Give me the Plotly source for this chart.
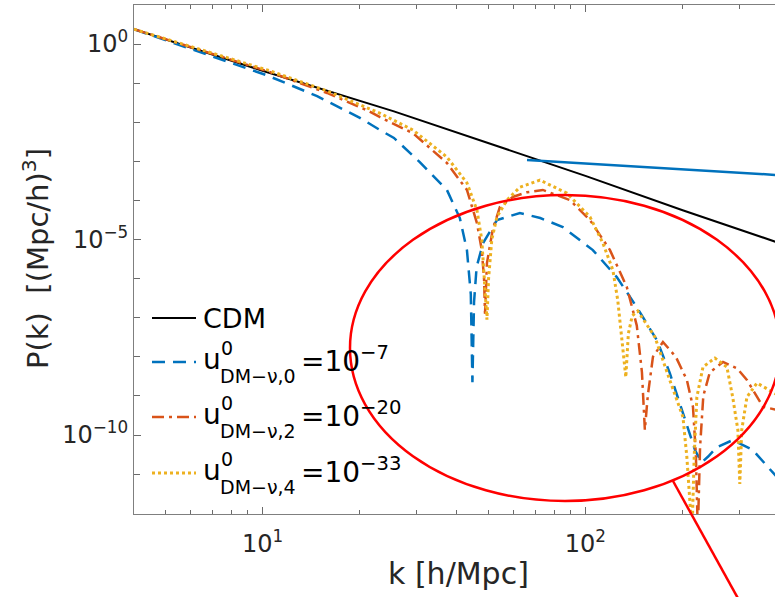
import numpy as np
import plotly.graph_objects as go

# ---------------- data (log10 values) ----------------
logk_cdm = [0.602, 1.0, 1.407, 1.699, 2.0, 2.301, 2.59]
logP_cdm = [0.38, -0.68, -1.72, -2.53, -3.37, -4.25, -5.06]

logk_nu0 = [0.602, 0.81, 1.014, 1.169, 1.3, 1.364, 1.407, 1.487, 1.571, 1.611, 1.633,
            1.645, 1.650, 1.655, 1.663, 1.683, 1.726, 1.797, 1.86, 1.930, 2.023, 2.097,
            2.159, 2.221, 2.261, 2.302, 2.340, 2.36, 2.38, 2.407, 2.456, 2.518, 2.59]
logP_nu0 = [0.38, -0.21, -0.80, -1.33, -1.88, -2.20, -2.40, -3.02, -3.73, -4.45, -5.27,
            -6.4, -8.65, -6.6, -5.7, -5.09, -4.50, -4.32, -4.45, -4.68, -5.27, -5.96,
            -6.73, -7.57, -8.41, -9.44, -10.4, -10.7, -10.55, -10.31, -10.13, -10.38, -11.05]

logk_nu2 = [0.602, 0.81, 1.014, 1.2, 1.323, 1.364, 1.466, 1.571, 1.633, 1.664, 1.679,
            1.686, 1.689, 1.695, 1.713, 1.735, 1.775, 1.819, 1.868, 1.952, 2.014, 2.076,
            2.128, 2.159, 2.175, 2.184, 2.193, 2.209, 2.240, 2.28, 2.314, 2.333, 2.342,
            2.348, 2.355, 2.365, 2.385, 2.426, 2.47, 2.5, 2.55, 2.59]
logP_nu2 = [0.38, -0.16, -0.69, -1.25, -1.69, -1.87, -2.28, -3.04, -3.73, -4.58, -5.27,
            -6.0, -6.9, -5.6, -4.74, -4.17, -3.91, -3.79, -3.73, -3.99, -4.50, -5.27,
            -6.21, -7.2, -8.4, -9.87, -9.0, -8.0, -7.62, -8.0, -8.59, -9.28, -10.5,
            -12.5, -10.3, -9.0, -8.4, -8.13, -8.3, -8.59, -9.28, -9.35]

logk_nu4 = [0.602, 1.014, 1.2, 1.364, 1.466, 1.571, 1.633, 1.664, 1.679, 1.688, 1.695,
            1.700, 1.710, 1.726, 1.757, 1.797, 1.859, 1.942, 2.014, 2.054, 2.085, 2.100,
            2.116, 2.125, 2.133, 2.145, 2.162, 2.215, 2.261, 2.302, 2.314, 2.323, 2.330,
            2.337, 2.345, 2.364, 2.401, 2.438, 2.456, 2.472, 2.478, 2.484, 2.5, 2.531,
            2.56, 2.59]
logP_nu4 = [0.38, -0.66, -1.20, -1.77, -2.20, -2.89, -3.55, -4.25, -5.01, -6.11, -7.05,
            -6.0, -5.0, -4.42, -3.99, -3.66, -3.48, -3.81, -4.42, -5.09, -5.78, -6.55,
            -7.75, -8.52, -7.4, -6.95, -6.83, -7.49, -8.59, -9.54, -10.56, -11.6, -12.5,
            -10.5, -9.03, -8.26, -8.03, -8.26, -9.03, -9.87, -11.25, -9.87, -9.03, -8.67,
            -8.8, -8.95]

series_names = ["CDM", "nu0", "nu2", "nu4"]
x_tick_vals = [10, 100]
x_tick_text = ["10<sup>1</sup>", "10<sup>2</sup>"]
y_tick_vals = [1e-10, 1e-5, 1e0]
y_tick_text = ["10<sup>−10</sup>", "10<sup>−5</sup>", "10<sup>0</sup>"]
x_minor = [5, 6, 7, 8, 9, 20, 30, 40, 50, 60, 70, 80, 90, 200, 300]
y_minor = [10.0 ** e for e in range(-12, 2)]

legend_exp = ["−7", "−20", "−33"]
legend_sub = ["DM−ν,0", "DM−ν,2", "DM−ν,4"]

# ---------------- styling ----------------
FONT = "DejaVu Sans"
W, H = 775, 597
ML, MR, MT, MB = 134, 0, 5, 83
PW, PH = W - ML - MR, H - MT - MB

def px(xp):
    return (xp - ML) / PW

def py(yp):
    return (H - MB - yp) / PH

colors = {"CDM": "#000000", "nu0": "#0072BD", "nu2": "#D95319", "nu4": "#EDB120"}
dashes = {"CDM": "solid", "nu0": "13px,8px", "nu2": "12px,5px,3px,5px", "nu4": "3px,3px"}
widths = {"CDM": 2, "nu0": 2.5, "nu2": 2.5, "nu4": 3}

data = {
    "CDM": (logk_cdm, logP_cdm),
    "nu0": (logk_nu0, logP_nu0),
    "nu2": (logk_nu2, logP_nu2),
    "nu4": (logk_nu4, logP_nu4),
}

fig = go.Figure()
for name in series_names:
    lk, lp = data[name]
    fig.add_trace(go.Scatter(
        x=10.0 ** np.array(lk), y=10.0 ** np.array(lp), mode="lines",
        line=dict(color=colors[name], width=widths[name], dash=dashes[name]),
        showlegend=False, hoverinfo="skip"))

axis_common = dict(
    type="log", showgrid=False, zeroline=False, showline=True,
    linecolor="#7f7f7f", linewidth=1, ticks="inside", ticklen=7,
    tickcolor="#6a6a6a", tickfont=dict(family=FONT, size=24, color="#262626"),
)

fig.update_xaxes(**axis_common, range=[0.602, 2.587], mirror="ticks",
                 tickvals=x_tick_vals, ticktext=x_tick_text, ticklabelstandoff=8,
                 minor=dict(tickvals=x_minor, ticks="inside", ticklen=4, tickcolor="#6a6a6a"))
fig.update_yaxes(**axis_common, range=[-12.02, 1.0], mirror=False,
                 tickvals=y_tick_vals, ticktext=y_tick_text,
                 minor=dict(tickvals=y_minor, ticks="inside", ticklen=6, tickcolor="#6a6a6a"))

annotations = []
# axis titles
annotations.append(dict(xref="paper", yref="paper", x=px(459), y=py(573),
                        text="k [h/Mpc]", showarrow=False,
                        font=dict(family=FONT, size=30, color="#262626"),
                        xanchor="center", yanchor="middle"))
annotations.append(dict(xref="paper", yref="paper", x=px(36), y=py(259),
                        text="P(k)  [(Mpc/h)<sup>3</sup>]", showarrow=False, textangle=-90,
                        font=dict(family=FONT, size=29, color="#262626"),
                        xanchor="center", yanchor="middle"))

shapes = []
# manual legend
row_y = [318, 362, 417, 473]
for i, name in enumerate(series_names):
    shapes.append(dict(type="line", xref="paper", yref="paper",
                       x0=px(152), x1=px(196), y0=py(row_y[i]), y1=py(row_y[i]),
                       line=dict(color=colors[name], width=widths[name], dash=dashes[name])))
annotations.append(dict(xref="paper", yref="paper", x=px(201), y=py(row_y[0]),
                        text="CDM", showarrow=False, xanchor="left", yanchor="middle",
                        font=dict(family=FONT, size=27, color="#000000")))
for j in range(3):
    yc = row_y[j + 1]
    annotations.append(dict(xref="paper", yref="paper", x=px(201), y=py(yc - 3),
                            text="u", showarrow=False, xanchor="left", yanchor="middle",
                            font=dict(family=FONT, size=28, color="#000000")))
    annotations.append(dict(xref="paper", yref="paper", x=px(219), y=py(yc - 14),
                            text="0", showarrow=False, xanchor="left", yanchor="middle",
                            font=dict(family=FONT, size=19, color="#000000")))
    annotations.append(dict(xref="paper", yref="paper", x=px(218), y=py(yc + 14),
                            text=legend_sub[j], showarrow=False, xanchor="left", yanchor="middle",
                            font=dict(family=FONT, size=19, color="#000000")))
    annotations.append(dict(xref="paper", yref="paper", x=px(299), y=py(yc - 3),
                            text="=10<sup>" + legend_exp[j] + "</sup>", showarrow=False,
                            xanchor="left", yanchor="middle",
                            font=dict(family=FONT, size=28, color="#000000")))

# annotation marks: blue pointer line, red ellipse and red line
shapes.append(dict(type="line", xref="paper", yref="paper",
                   x0=px(527), y0=py(160), x1=px(777), y1=py(175),
                   line=dict(color="#0072BD", width=2.5)))
shapes.append(dict(type="circle", xref="paper", yref="paper",
                   x0=px(350), x1=px(780), y0=py(501), y1=py(195),
                   line=dict(color="#FF0000", width=2.5)))
shapes.append(dict(type="line", xref="paper", yref="paper",
                   x0=px(673), y0=py(481), x1=px(740), y1=py(602),
                   line=dict(color="#FF0000", width=2.5)))

fig.update_layout(
    width=W, height=H, margin=dict(l=ML, r=MR, t=MT, b=MB, pad=0),
    paper_bgcolor="white", plot_bgcolor="white",
    showlegend=False, annotations=annotations, shapes=shapes,
    font=dict(family=FONT),
)

fig.write_html("out.html", config={"displayModeBar": False},
               post_script="document.body.style.margin='0px';document.body.style.overflow='hidden';")
